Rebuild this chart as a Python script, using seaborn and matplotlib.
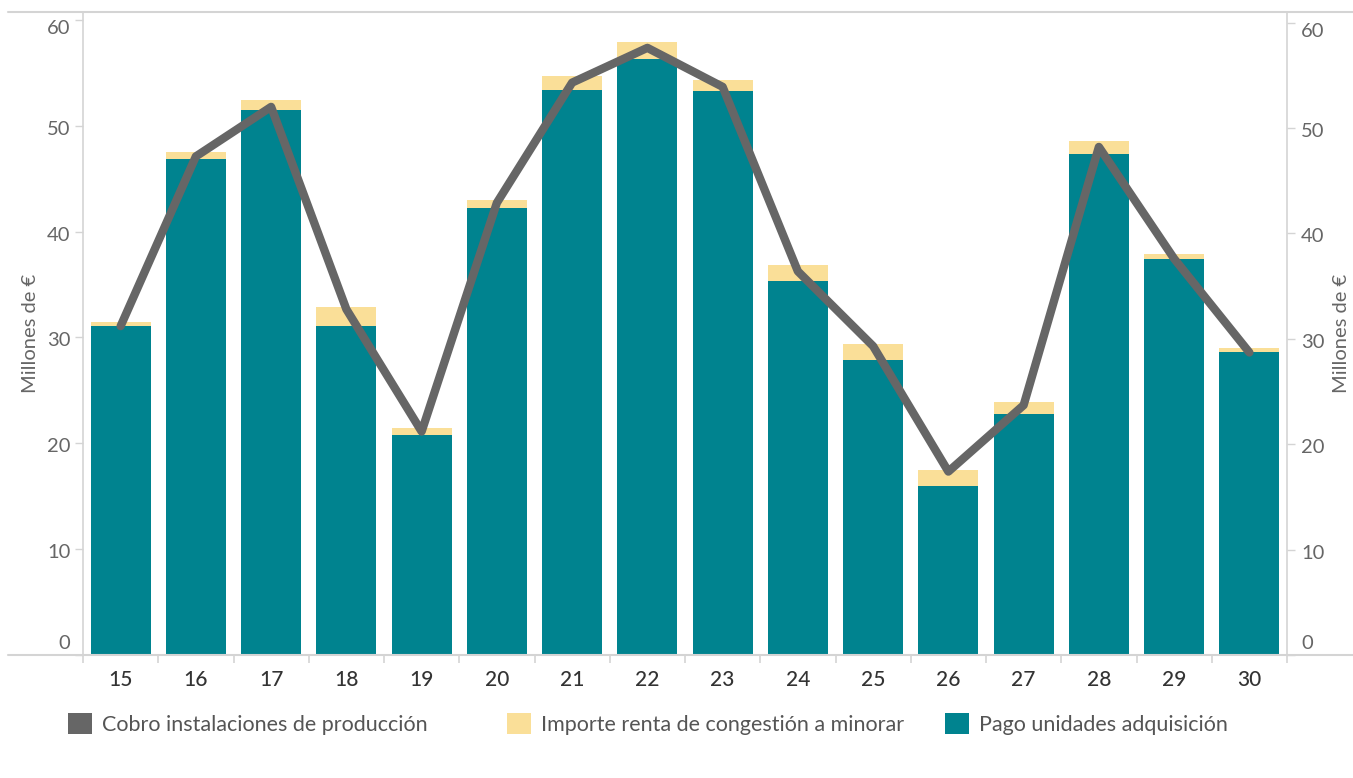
import numpy as np
import matplotlib
matplotlib.use("Agg")
import matplotlib.pyplot as plt
import matplotlib.transforms as mtransforms
from matplotlib.lines import Line2D
from matplotlib.patches import Patch
from matplotlib.ticker import FixedLocator
import seaborn as sns

# ---- data ----
weeks = ["15", "16", "17", "18", "19", "20", "21", "22", "23", "24", "25", "26", "27", "28", "29", "30"]
pago_adquisicion = [31.1, 46.9, 51.5, 31.1, 20.8, 42.2, 53.4, 56.3, 53.3, 35.3, 27.9, 16.0, 22.8, 47.3, 37.4, 28.6]
renta_congestion = [0.4, 0.6, 0.9, 1.8, 0.6, 0.8, 1.3, 1.6, 1.0, 1.5, 1.5, 1.5, 1.1, 1.3, 0.5, 0.4]
cobro_produccion = [31.2, 47.3, 52.0, 32.8, 21.2, 42.9, 54.3, 57.6, 53.9, 36.4, 29.3, 17.4, 23.7, 48.2, 37.6, 28.7]
y_ticks = [0, 10, 20, 30, 40, 50, 60]
legend_labels = ["Cobro instalaciones de producción", "Importe renta de congestión a minorar", "Pago unidades adquisición"]
axis_label = "Millones de €"

TEAL = "#00838F"
YELLOW = "#FADF98"
GREY = "#666666"
SPINE = "#D4D4D4"

sns.set_theme(style="white")
plt.rcParams["font.family"] = ["Lato", "DejaVu Sans"]

W, H = 1353, 778
fig = plt.figure(figsize=(W / 100, H / 100), dpi=100)
ax = fig.add_axes([83 / W, 1 - 655 / H, (1287 - 83) / W, (655 - 12) / H])

totals = [p + r for p, r in zip(pago_adquisicion, renta_congestion)]
sns.barplot(x=weeks, y=totals, color=YELLOW, saturation=1, width=0.8, ax=ax,
            zorder=2, linewidth=0, edgecolor="none")
sns.barplot(x=weeks, y=pago_adquisicion, color=TEAL, saturation=1, width=0.8, ax=ax,
            zorder=3, linewidth=0, edgecolor="none")
ax.set_ylim(0, 60.75)
ax.set_xlim(-0.5, len(weeks) - 0.5)

ax2 = ax.twinx()
idx = np.arange(len(weeks))
sns.lineplot(x=idx, y=cobro_produccion, ax=ax2, color=GREY, linewidth=6, zorder=5)
ax2.set_ylim(0, 61.0)
ax2.set_xlim(-0.5, len(weeks) - 0.5)

for a in (ax, ax2):
    for s in ("top", "bottom"):
        a.spines[s].set_visible(False)
    a.spines["left"].set_color(SPINE)
    a.spines["right"].set_color(SPINE)
    a.spines["left"].set_linewidth(1.2)
    a.spines["right"].set_linewidth(1.2)
    a.grid(False)
ax.spines["right"].set_visible(False)
ax2.spines["left"].set_visible(False)

ax.set_yticks(y_ticks)
ax2.set_yticks(y_ticks)
ax.tick_params(axis="y", left=True, length=6, width=1, color=SPINE, labelsize=14.5, labelcolor="#666666", pad=3)
ax2.tick_params(axis="y", right=True, length=6, width=1, color=SPINE, labelsize=14.5, labelcolor="#666666", pad=4)

# x ticks: labels at centres, tick marks at category boundaries
ax.tick_params(axis="x", which="major", length=0, labelsize=15, labelcolor="#333333", pad=11)
ax.xaxis.set_minor_locator(FixedLocator(np.arange(-0.5, len(weeks), 1.0)))
ax.tick_params(axis="x", which="minor", bottom=True, length=6, width=1.2, color=SPINE)
ax2.tick_params(axis="x", bottom=False, labelbottom=False)
for lbl in ax.get_xticklabels():
    lbl.set_fontweight("medium")

ax.set_xlabel("")
ax.set_ylabel(axis_label, fontsize=14.5, color="#666666", labelpad=6)
ax2.set_ylabel(axis_label, fontsize=14.5, color="#666666", labelpad=6, rotation=90)

# figure-level horizontal rules
fig.add_artist(Line2D([8 / W, 1], [1 - 12 / H, 1 - 12 / H], color=SPINE, lw=1.5))
fig.add_artist(Line2D([8 / W, 1], [1 - 655 / H, 1 - 655 / H], color=SPINE, lw=1.5))

# nudge first/last y tick labels like the reference
fig.canvas.draw()
for a, which in ((ax, "label1"), (ax2, "label2")):
    ticks = a.yaxis.get_major_ticks()
    for i, t in enumerate(ticks):
        lab = getattr(t, which)
        if i == 0:
            dy = 13
        elif i == len(ticks) - 1:
            dy = -7
        else:
            dy = -2
        lab.set_transform(lab.get_transform() + mtransforms.ScaledTranslation(0, dy / 100, fig.dpi_scale_trans))

# legend: three fixed-width columns
colors = [GREY, YELLOW, TEAL]
xs = [62, 501, 939]
for lab, c, x in zip(legend_labels, colors, xs):
    fig.legend(handles=[Patch(facecolor=c, edgecolor="none")], labels=[lab],
               loc="center left", bbox_to_anchor=(x / W, 1 - 724 / H), frameon=False,
               fontsize=15.5, labelcolor="#555555", handlelength=1.1, handleheight=1.15,
               handletextpad=0.45, borderaxespad=0, borderpad=0.3)

fig.savefig("out.png", dpi=100)
